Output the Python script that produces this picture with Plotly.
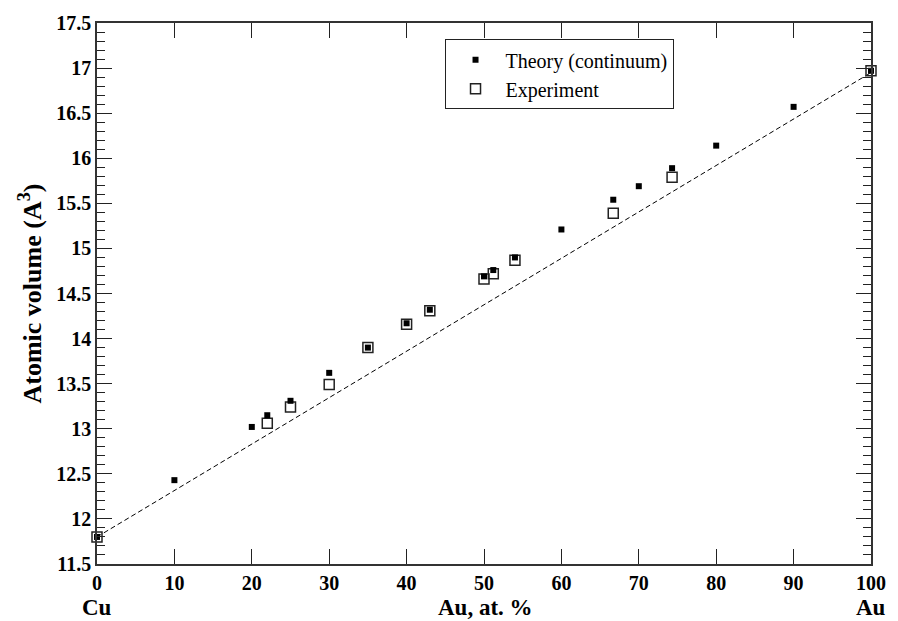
import plotly.graph_objects as go

# Cu–Au alloys: atomic volume vs Au concentration
theory_x = [0, 10, 20, 22, 25, 30, 35, 40, 43, 50, 51.2, 54, 60, 66.7, 70, 74.3, 80, 90, 100]
theory_y = [11.80, 12.43, 13.02, 13.15, 13.31, 13.62, 13.90, 14.17, 14.32, 14.69, 14.76, 14.90,
            15.21, 15.54, 15.69, 15.89, 16.14, 16.57, 16.97]

exp_x = [0, 22, 25, 30, 35, 40, 43, 50, 51.2, 54, 66.7, 74.3, 100]
exp_y = [11.80, 13.06, 13.24, 13.49, 13.90, 14.16, 14.31, 14.66, 14.72, 14.87, 15.39, 15.79, 16.97]

# Vegard's law: straight line between the pure-metal volumes
vegard_x = [0, 100]
vegard_y = [11.80, 16.95]

FONT = "Liberation Serif, Times New Roman, serif"

fig = go.Figure()

fig.add_trace(go.Scatter(
    x=vegard_x, y=vegard_y, mode="lines",
    line=dict(color="black", width=1, dash="5px,3px"),
    showlegend=False, hoverinfo="skip",
))

fig.add_trace(go.Scatter(
    x=exp_x, y=exp_y, mode="markers", name="Experiment", legendrank=2, cliponaxis=False,
    marker=dict(symbol="square-open", size=10, color="#222", line=dict(width=1.5, color="#222")),
))

fig.add_trace(go.Scatter(
    x=theory_x, y=theory_y, mode="markers", name="Theory (continuum)", legendrank=1, cliponaxis=False,
    marker=dict(symbol="square", size=6, color="black"),
))

axis_common = dict(
    showline=True, linecolor="#333", linewidth=1.5, mirror="ticks",
    ticks="inside", ticklen=15, tickwidth=1.2, tickcolor="#222",
    showgrid=False, zeroline=False,
    tickfont=dict(family=FONT, size=20, color="black", weight="bold"),
)

fig.update_xaxes(range=[0, 100], dtick=10, tick0=0, **axis_common)
fig.update_yaxes(range=[11.5, 17.5], dtick=0.5, tick0=11.5,
                 minor=dict(dtick=0.1, ticks="inside", ticklen=8, tickwidth=1.2, tickcolor="#222"),
                 **axis_common)

title_font = dict(family=FONT, size=23, color="black", weight="bold")

fig.update_layout(
    width=898, height=621,
    margin=dict(l=97, r=20, t=18, b=57),
    paper_bgcolor="white", plot_bgcolor="white",
    font=dict(family=FONT, color="black"),
    legend=dict(
        x=0.449, y=0.97, xanchor="left", yanchor="top",
        bordercolor="#222", borderwidth=1, bgcolor="white",
        font=dict(family=FONT, size=20, color="black"),
        itemsizing="trace", itemwidth=50, tracegroupgap=0,
    ),
    annotations=[
        dict(text="Au, at. %", x=0.502, y=0, xref="paper", yref="paper", borderpad=0,
             xanchor="center", yanchor="middle", yshift=-43, showarrow=False, font=title_font),
        dict(text="Cu", x=0, y=0, xref="x", yref="paper", borderpad=0,
             xanchor="center", yanchor="middle", yshift=-43, showarrow=False, font=title_font),
        dict(text="Au", x=100, y=0, xref="x", yref="paper", borderpad=0,
             xanchor="center", yanchor="middle", yshift=-43, showarrow=False, font=title_font),
        dict(text="Atomic volume (A<sup>3</sup>)", x=0, y=0.5, xref="paper", yref="paper",
             xanchor="center", yanchor="middle", xshift=-66, textangle=-90,
             showarrow=False, font=dict(family=FONT, size=26, color="black", weight="bold")),
    ],
)

fig.write_html("out.html")
